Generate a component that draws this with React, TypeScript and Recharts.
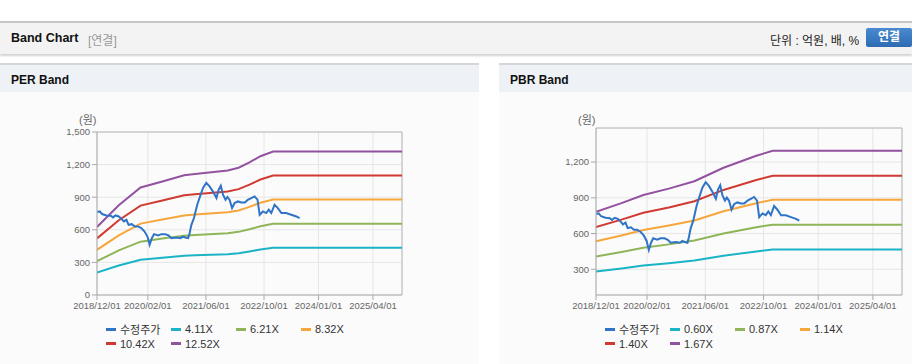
import React from "react";
import { LineChart, Line, XAxis, YAxis, CartesianGrid, ReferenceLine } from "recharts";

// ---- axis ticks ----
const xTickMonths = [0, 14, 30, 46, 61, 76];
const xTickLabels = ["2018/12/01", "2020/02/01", "2021/06/01", "2022/10/01", "2024/01/01", "2025/04/01"];
const perYTicks = [0, 300, 600, 900, 1200, 1500];
const pbrYTicks = [300, 600, 900, 1200];

// ---- 수정주가 (month index from 2018/12, value) ----
const priceMonths = [0.1, 0.75, 1.4, 2.6, 3.8, 4.4, 5.1, 6.0, 6.7, 7.4, 8.1, 8.7, 9.6, 10.4, 11.3, 12.2, 13.1, 13.9, 14.5, 15.1, 15.7, 16.8, 17.7, 18.8, 19.7, 20.5, 21.9, 23.0, 23.7, 24.3, 25.1, 25.5, 26.0, 26.7, 27.6, 28.3, 29.2, 30.1, 31.0, 31.9, 32.9, 33.5, 34.1, 34.7, 35.4, 35.9, 36.5, 37.2, 37.9, 38.8, 39.8, 40.7, 41.6, 42.5, 43.4, 44.2, 44.8, 45.7, 46.6, 47.3, 48.0, 48.9, 49.8, 50.8, 52.1, 53.5, 54.9, 55.8];
const priceValues = [763, 769, 745, 732, 729, 714, 732, 723, 702, 677, 692, 646, 652, 631, 631, 615, 584, 538, 462, 523, 560, 548, 560, 560, 548, 523, 529, 523, 538, 529, 523, 569, 646, 708, 831, 900, 985, 1031, 1000, 954, 892, 969, 1006, 923, 877, 902, 877, 800, 846, 861, 852, 852, 877, 892, 907, 877, 738, 769, 754, 785, 754, 831, 800, 754, 754, 738, 723, 708];

// ---- PER bands ----
const perBandMonths = [0, 6, 12, 18, 24, 27, 36, 39, 42, 45, 48.5, 84];
const per411 = [206, 271, 325, 343, 362, 366, 376, 384, 401, 419, 434, 434];
const per621 = [311, 410, 491, 519, 546, 553, 568, 581, 605, 633, 655, 655];
const per832 = [416, 549, 657, 695, 732, 740, 761, 778, 811, 849, 878, 878];
const per1042 = [521, 688, 823, 870, 917, 927, 953, 974, 1016, 1063, 1099, 1099];
const per1252 = [626, 826, 989, 1045, 1102, 1114, 1146, 1171, 1221, 1277, 1321, 1321];
const perNames = ["수정주가", "4.11X", "6.21X", "8.32X", "10.42X", "12.52X"];

// ---- PBR bands ----
const pbrBandMonths = [0, 7, 13, 20, 27, 35, 44, 48.5, 84];
const pbr060 = [281, 307, 332, 351, 373, 414, 450, 465, 465];
const pbr087 = [407, 445, 481, 509, 541, 600, 653, 674, 674];
const pbr114 = [534, 584, 630, 667, 709, 787, 855, 884, 884];
const pbr140 = [655, 717, 774, 819, 871, 966, 1050, 1085, 1085];
const pbr167 = [782, 855, 924, 977, 1039, 1152, 1253, 1294, 1294];
const pbrNames = ["수정주가", "0.60X", "0.87X", "1.14X", "1.40X", "1.67X"];

const colors = ["#2f74c6", "#1bb3c6", "#8fb558", "#f6a63a", "#d03a32", "#9352a0"];

const toPoints = (ms: number[], vs: number[]) => ms.map((m, i) => ({ m, v: vs[i] }));

const LATIN = "'Liberation Sans', Arial, 'Noto Sans CJK KR', sans-serif";

function Legend({ names }: { names: string[] }) {
  return (
    <div style={{ position: "absolute", left: 106, top: 230, width: 270, fontFamily: LATIN, fontSize: 11, color: "#333" }}>
      {names.map((n, i) => (
        <div key={n} style={{ position: "absolute", left: (i % 4) * 65, top: Math.floor(i / 4) * 14.5, height: 14, display: "flex", alignItems: "center", whiteSpace: "nowrap" }}>
          <span style={{ display: "inline-block", width: 10, height: 3, background: colors[i], marginRight: 4 }} />
          <span>{n}</span>
        </div>
      ))}
    </div>
  );
}

function Band({
  left, width, topMargin, rightMargin, yDomain, yTicks, bandMonths, bands, names,
}: {
  left: number; width: number; topMargin: number; rightMargin: number; yDomain: [number, number]; yTicks: number[];
  bandMonths: number[]; bands: number[][]; names: string[];
}) {
  const price = toPoints(priceMonths, priceValues);
  return (
    <div style={{ position: "absolute", left, top: 92, width, height: 270 }}>
      <div style={{ position: "absolute", left: 79, top: 19, fontFamily: LATIN, fontSize: 11, color: "#666" }}>(원)</div>
      <LineChart width={width} height={240} margin={{ top: topMargin, right: rightMargin, bottom: 7, left: 37 }}>
        <CartesianGrid stroke="#e6e6e6" strokeWidth={1} />
        <XAxis
          type="number"
          dataKey="m"
          domain={[0, 84]}
          ticks={xTickMonths}
          tickFormatter={(v: number) => xTickLabels[xTickMonths.indexOf(v)] ?? ""}
          height={30}
          allowDataOverflow
          stroke="#a8a8a8"
          tickSize={5}
          tickMargin={2}
          tick={{ fill: "#666", fontSize: 9.5, fontFamily: LATIN }}
          interval={0}
        />
        <YAxis
          type="number"
          dataKey="v"
          domain={yDomain}
          ticks={yTicks}
          width={60}
          allowDataOverflow
          stroke="#a8a8a8"
          tickSize={5}
          tickMargin={2}
          tick={{ fill: "#666", fontSize: 9.5, fontFamily: LATIN }}
          tickFormatter={(v: number) => v.toLocaleString("en-US")}
          interval={0}
        />
        <ReferenceLine y={yDomain[1]} stroke="#b8b8b8" ifOverflow="visible" />
        <ReferenceLine x={84} stroke="#b8b8b8" ifOverflow="visible" />
        {bands.map((b, i) => (
          <Line
            key={names[i + 1]}
            data={toPoints(bandMonths, b)}
            dataKey="v"
            type="linear"
            stroke={colors[i + 1]}
            strokeWidth={2}
            dot={false}
            activeDot={false}
            isAnimationActive={false}
          />
        ))}
        <Line
          data={price}
          dataKey="v"
          type="linear"
          stroke={colors[0]}
          strokeWidth={2}
          dot={false}
          activeDot={false}
          isAnimationActive={false}
        />
      </LineChart>
      <Legend names={names} />
    </div>
  );
}

export default function App() {
  return (
    <div style={{ position: "absolute", left: 0, top: 0, width: 912, height: 364, background: "#fff", overflow: "hidden", fontFamily: LATIN }}>
      {/* top header */}
      <div style={{ position: "absolute", left: 0, top: 21, width: 912, height: 31, background: "#f3f3f3", borderTop: "2px solid #c6c6c6", boxShadow: "0 2px 2px rgba(0,0,0,0.18)" }}>
        <span style={{ position: "absolute", left: 11, top: 8, fontSize: 12.5, fontWeight: "bold", color: "#111" }}>Band Chart</span>
        <span style={{ position: "absolute", left: 88, top: 8, fontSize: 12, color: "#999" }}>[연결]</span>
        <span style={{ position: "absolute", left: 770, top: 8, fontSize: 12, color: "#222" }}>단위 : 억원, 배, %</span>
        <div style={{ position: "absolute", left: 866, top: 5, width: 46, height: 19, background: "linear-gradient(#4a8ad0, #2d6cb3)", borderRadius: 2, color: "#fff", fontSize: 12, fontWeight: "bold", textAlign: "center", lineHeight: "19px" }}>연결</div>
      </div>
      {/* PER panel */}
      <div style={{ position: "absolute", left: 0, top: 63, width: 479, height: 299, background: "#fbfbfb", borderTop: "2px solid #d6d6d6", borderBottom: "1px solid #d8d8d8" }}>
        <div style={{ height: 27, background: "#eef1f6" }}>
          <span style={{ position: "absolute", left: 11, top: 8, fontSize: 12, fontWeight: "bold", color: "#111" }}>PER Band</span>
        </div>
      </div>
      {/* PBR panel */}
      <div style={{ position: "absolute", left: 499, top: 63, width: 413, height: 299, background: "#fbfbfb", borderTop: "2px solid #d6d6d6", borderBottom: "1px solid #d8d8d8" }}>
        <div style={{ height: 27, background: "#eef1f6" }}>
          <span style={{ position: "absolute", left: 11, top: 8, fontSize: 12, fontWeight: "bold", color: "#111" }}>PBR Band</span>
        </div>
      </div>
      <Band
        left={0}
        width={479}
        topMargin={40}
        rightMargin={77}
        yDomain={[0, 1500]}
        yTicks={perYTicks}
        bandMonths={perBandMonths}
        bands={[per411, per621, per832, per1042, per1252]}
        names={perNames}
      />
      <Band
        left={499}
        width={413}
        topMargin={36}
        rightMargin={10}
        yDomain={[84, 1486]}
        yTicks={pbrYTicks}
        bandMonths={pbrBandMonths}
        bands={[pbr060, pbr087, pbr114, pbr140, pbr167]}
        names={pbrNames}
      />
    </div>
  );
}
